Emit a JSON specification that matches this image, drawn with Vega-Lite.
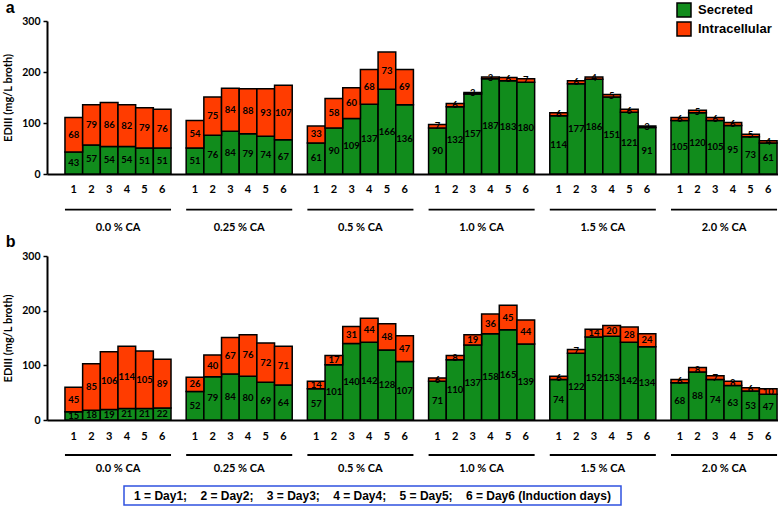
{
  "$schema": "https://vega.github.io/schema/vega-lite/v6.json",
  "padding": {"left": 2, "top": 0, "right": 0, "bottom": 0},
  "datasets": {
    "a": [
      {"CA":"0.0 % CA","day":1,"type":"Secreted","value":43},{"CA":"0.0 % CA","day":2,"type":"Secreted","value":57},{"CA":"0.0 % CA","day":3,"type":"Secreted","value":54},{"CA":"0.0 % CA","day":4,"type":"Secreted","value":54},{"CA":"0.0 % CA","day":5,"type":"Secreted","value":51},{"CA":"0.0 % CA","day":6,"type":"Secreted","value":51},
      {"CA":"0.0 % CA","day":1,"type":"Intracellular","value":68},{"CA":"0.0 % CA","day":2,"type":"Intracellular","value":79},{"CA":"0.0 % CA","day":3,"type":"Intracellular","value":86},{"CA":"0.0 % CA","day":4,"type":"Intracellular","value":82},{"CA":"0.0 % CA","day":5,"type":"Intracellular","value":79},{"CA":"0.0 % CA","day":6,"type":"Intracellular","value":76},
      {"CA":"0.25 % CA","day":1,"type":"Secreted","value":51},{"CA":"0.25 % CA","day":2,"type":"Secreted","value":76},{"CA":"0.25 % CA","day":3,"type":"Secreted","value":84},{"CA":"0.25 % CA","day":4,"type":"Secreted","value":79},{"CA":"0.25 % CA","day":5,"type":"Secreted","value":74},{"CA":"0.25 % CA","day":6,"type":"Secreted","value":67},
      {"CA":"0.25 % CA","day":1,"type":"Intracellular","value":54},{"CA":"0.25 % CA","day":2,"type":"Intracellular","value":75},{"CA":"0.25 % CA","day":3,"type":"Intracellular","value":84},{"CA":"0.25 % CA","day":4,"type":"Intracellular","value":88},{"CA":"0.25 % CA","day":5,"type":"Intracellular","value":93},{"CA":"0.25 % CA","day":6,"type":"Intracellular","value":107},
      {"CA":"0.5 % CA","day":1,"type":"Secreted","value":61},{"CA":"0.5 % CA","day":2,"type":"Secreted","value":90},{"CA":"0.5 % CA","day":3,"type":"Secreted","value":109},{"CA":"0.5 % CA","day":4,"type":"Secreted","value":137},{"CA":"0.5 % CA","day":5,"type":"Secreted","value":166},{"CA":"0.5 % CA","day":6,"type":"Secreted","value":136},
      {"CA":"0.5 % CA","day":1,"type":"Intracellular","value":33},{"CA":"0.5 % CA","day":2,"type":"Intracellular","value":58},{"CA":"0.5 % CA","day":3,"type":"Intracellular","value":60},{"CA":"0.5 % CA","day":4,"type":"Intracellular","value":68},{"CA":"0.5 % CA","day":5,"type":"Intracellular","value":73},{"CA":"0.5 % CA","day":6,"type":"Intracellular","value":69},
      {"CA":"1.0 % CA","day":1,"type":"Secreted","value":90},{"CA":"1.0 % CA","day":2,"type":"Secreted","value":132},{"CA":"1.0 % CA","day":3,"type":"Secreted","value":157},{"CA":"1.0 % CA","day":4,"type":"Secreted","value":187},{"CA":"1.0 % CA","day":5,"type":"Secreted","value":183},{"CA":"1.0 % CA","day":6,"type":"Secreted","value":180},
      {"CA":"1.0 % CA","day":1,"type":"Intracellular","value":7},{"CA":"1.0 % CA","day":2,"type":"Intracellular","value":6},{"CA":"1.0 % CA","day":3,"type":"Intracellular","value":3},{"CA":"1.0 % CA","day":4,"type":"Intracellular","value":3},{"CA":"1.0 % CA","day":5,"type":"Intracellular","value":6},{"CA":"1.0 % CA","day":6,"type":"Intracellular","value":7},
      {"CA":"1.5 % CA","day":1,"type":"Secreted","value":114},{"CA":"1.5 % CA","day":2,"type":"Secreted","value":177},{"CA":"1.5 % CA","day":3,"type":"Secreted","value":186},{"CA":"1.5 % CA","day":4,"type":"Secreted","value":151},{"CA":"1.5 % CA","day":5,"type":"Secreted","value":121},{"CA":"1.5 % CA","day":6,"type":"Secreted","value":91},
      {"CA":"1.5 % CA","day":1,"type":"Intracellular","value":6},{"CA":"1.5 % CA","day":2,"type":"Intracellular","value":6},{"CA":"1.5 % CA","day":3,"type":"Intracellular","value":4},{"CA":"1.5 % CA","day":4,"type":"Intracellular","value":5},{"CA":"1.5 % CA","day":5,"type":"Intracellular","value":6},{"CA":"1.5 % CA","day":6,"type":"Intracellular","value":3},
      {"CA":"2.0 % CA","day":1,"type":"Secreted","value":105},{"CA":"2.0 % CA","day":2,"type":"Secreted","value":120},{"CA":"2.0 % CA","day":3,"type":"Secreted","value":105},{"CA":"2.0 % CA","day":4,"type":"Secreted","value":95},{"CA":"2.0 % CA","day":5,"type":"Secreted","value":73},{"CA":"2.0 % CA","day":6,"type":"Secreted","value":61},
      {"CA":"2.0 % CA","day":1,"type":"Intracellular","value":6},{"CA":"2.0 % CA","day":2,"type":"Intracellular","value":5},{"CA":"2.0 % CA","day":3,"type":"Intracellular","value":6},{"CA":"2.0 % CA","day":4,"type":"Intracellular","value":6},{"CA":"2.0 % CA","day":5,"type":"Intracellular","value":5},{"CA":"2.0 % CA","day":6,"type":"Intracellular","value":4}
    ],
    "b": [
      {"CA":"0.0 % CA","day":1,"type":"Secreted","value":15},{"CA":"0.0 % CA","day":2,"type":"Secreted","value":18},{"CA":"0.0 % CA","day":3,"type":"Secreted","value":19},{"CA":"0.0 % CA","day":4,"type":"Secreted","value":21},{"CA":"0.0 % CA","day":5,"type":"Secreted","value":21},{"CA":"0.0 % CA","day":6,"type":"Secreted","value":22},
      {"CA":"0.0 % CA","day":1,"type":"Intracellular","value":45},{"CA":"0.0 % CA","day":2,"type":"Intracellular","value":85},{"CA":"0.0 % CA","day":3,"type":"Intracellular","value":106},{"CA":"0.0 % CA","day":4,"type":"Intracellular","value":114},{"CA":"0.0 % CA","day":5,"type":"Intracellular","value":105},{"CA":"0.0 % CA","day":6,"type":"Intracellular","value":89},
      {"CA":"0.25 % CA","day":1,"type":"Secreted","value":52},{"CA":"0.25 % CA","day":2,"type":"Secreted","value":79},{"CA":"0.25 % CA","day":3,"type":"Secreted","value":84},{"CA":"0.25 % CA","day":4,"type":"Secreted","value":80},{"CA":"0.25 % CA","day":5,"type":"Secreted","value":69},{"CA":"0.25 % CA","day":6,"type":"Secreted","value":64},
      {"CA":"0.25 % CA","day":1,"type":"Intracellular","value":26},{"CA":"0.25 % CA","day":2,"type":"Intracellular","value":40},{"CA":"0.25 % CA","day":3,"type":"Intracellular","value":67},{"CA":"0.25 % CA","day":4,"type":"Intracellular","value":76},{"CA":"0.25 % CA","day":5,"type":"Intracellular","value":72},{"CA":"0.25 % CA","day":6,"type":"Intracellular","value":71},
      {"CA":"0.5 % CA","day":1,"type":"Secreted","value":57},{"CA":"0.5 % CA","day":2,"type":"Secreted","value":101},{"CA":"0.5 % CA","day":3,"type":"Secreted","value":140},{"CA":"0.5 % CA","day":4,"type":"Secreted","value":142},{"CA":"0.5 % CA","day":5,"type":"Secreted","value":128},{"CA":"0.5 % CA","day":6,"type":"Secreted","value":107},
      {"CA":"0.5 % CA","day":1,"type":"Intracellular","value":14},{"CA":"0.5 % CA","day":2,"type":"Intracellular","value":17},{"CA":"0.5 % CA","day":3,"type":"Intracellular","value":31},{"CA":"0.5 % CA","day":4,"type":"Intracellular","value":44},{"CA":"0.5 % CA","day":5,"type":"Intracellular","value":48},{"CA":"0.5 % CA","day":6,"type":"Intracellular","value":47},
      {"CA":"1.0 % CA","day":1,"type":"Secreted","value":71},{"CA":"1.0 % CA","day":2,"type":"Secreted","value":110},{"CA":"1.0 % CA","day":3,"type":"Secreted","value":137},{"CA":"1.0 % CA","day":4,"type":"Secreted","value":158},{"CA":"1.0 % CA","day":5,"type":"Secreted","value":165},{"CA":"1.0 % CA","day":6,"type":"Secreted","value":139},
      {"CA":"1.0 % CA","day":1,"type":"Intracellular","value":6},{"CA":"1.0 % CA","day":2,"type":"Intracellular","value":8},{"CA":"1.0 % CA","day":3,"type":"Intracellular","value":19},{"CA":"1.0 % CA","day":4,"type":"Intracellular","value":36},{"CA":"1.0 % CA","day":5,"type":"Intracellular","value":45},{"CA":"1.0 % CA","day":6,"type":"Intracellular","value":44},
      {"CA":"1.5 % CA","day":1,"type":"Secreted","value":74},{"CA":"1.5 % CA","day":2,"type":"Secreted","value":122},{"CA":"1.5 % CA","day":3,"type":"Secreted","value":152},{"CA":"1.5 % CA","day":4,"type":"Secreted","value":153},{"CA":"1.5 % CA","day":5,"type":"Secreted","value":142},{"CA":"1.5 % CA","day":6,"type":"Secreted","value":134},
      {"CA":"1.5 % CA","day":1,"type":"Intracellular","value":6},{"CA":"1.5 % CA","day":2,"type":"Intracellular","value":7},{"CA":"1.5 % CA","day":3,"type":"Intracellular","value":14},{"CA":"1.5 % CA","day":4,"type":"Intracellular","value":20},{"CA":"1.5 % CA","day":5,"type":"Intracellular","value":28},{"CA":"1.5 % CA","day":6,"type":"Intracellular","value":24},
      {"CA":"2.0 % CA","day":1,"type":"Secreted","value":68},{"CA":"2.0 % CA","day":2,"type":"Secreted","value":88},{"CA":"2.0 % CA","day":3,"type":"Secreted","value":74},{"CA":"2.0 % CA","day":4,"type":"Secreted","value":63},{"CA":"2.0 % CA","day":5,"type":"Secreted","value":53},{"CA":"2.0 % CA","day":6,"type":"Secreted","value":47},
      {"CA":"2.0 % CA","day":1,"type":"Intracellular","value":6},{"CA":"2.0 % CA","day":2,"type":"Intracellular","value":8},{"CA":"2.0 % CA","day":3,"type":"Intracellular","value":7},{"CA":"2.0 % CA","day":4,"type":"Intracellular","value":8},{"CA":"2.0 % CA","day":5,"type":"Intracellular","value":6},{"CA":"2.0 % CA","day":6,"type":"Intracellular","value":10}
    ],
    "note": [{"t": "1 = Day1;\u00a0\u00a0\u00a0 2 = Day2;\u00a0\u00a0\u00a0 3 = Day3;\u00a0\u00a0\u00a0 4 = Day4;\u00a0\u00a0\u00a0 5 = Day5;\u00a0\u00a0\u00a0 6 = Day6 (Induction days)"}]
  },
  "vconcat": [
    {
      "title": {"text": "a", "anchor": "start", "frame": "bounds", "font": "Liberation Sans", "fontSize": 16, "fontWeight": "bold", "offset": -14, "dx": 3, "color": "black"},
      "width": 731,
      "height": 153,
      "data": {"name": "a"},
      "transform": [
        {"stack": "value", "groupby": ["CA", "day"], "sort": [{"field": "type", "order": "descending"}], "as": ["v0", "v1"]},
        {"calculate": "(datum.v0 + datum.v1) / 2", "as": "mid"}
      ],
      "layer": [
        {
          "mark": {"type": "bar", "stroke": "black", "strokeWidth": 1.5},
          "encoding": {
            "x": {"field": "CA", "type": "nominal", "sort": null, "scale": {"domain": ["0.0 % CA","0.25 % CA","0.5 % CA","1.0 % CA","1.5 % CA","2.0 % CA"], "paddingInner": 0.125, "paddingOuter": 0.078, "align": 0.95}, "axis": {"title": null, "labelAngle": 0, "ticks": false, "tickSize": 0, "labelPadding": 47, "domainColor": "black", "domainWidth": 2, "labelFont": "Lato", "labelFontWeight": "bold", "labelFontSize": 11, "labelColor": "black"}},
            "xOffset": {"field": "day", "type": "ordinal", "scale": {"paddingInner": 0, "paddingOuter": 0}},
            "y": {"field": "v0", "type": "quantitative", "scale": {"domain": [0, 300]}, "axis": {"title": "EDIII (mg/L broth)", "values": [0,50,100,150,200,250,300], "grid": false, "domainColor": "black", "domainWidth": 2, "tickColor": "black", "tickWidth": 1.5, "tickSize": 4, "labelPadding": 3, "labelFont": "Lato", "labelFontWeight": "bold", "labelFontSize": 10.5, "labelColor": "black", "titleFont": "Lato", "titleFontWeight": "bold", "titleFontSize": 11, "titleColor": "black", "titlePadding": 8}},
            "y2": {"field": "v1"},
            "color": {"field": "type", "type": "nominal", "scale": {"domain": ["Secreted", "Intracellular"], "range": ["#118c1c", "#ff3c00"]}, "legend": {"title": null, "orient": "none", "legendX": 629, "legendY": -19, "symbolType": "square", "symbolSize": 196, "symbolStrokeColor": "black", "symbolStrokeWidth": 1.5, "symbolOpacity": 1, "labelFont": "Liberation Sans", "labelFontWeight": "bold", "labelFontSize": 13, "labelColor": "black", "labelOffset": 6, "rowPadding": -1, "padding": 0}}
          }
        },
        {
          "mark": {"type": "text", "font": "Lato", "fontWeight": "bold", "fontSize": 9.5, "baseline": "middle", "color": "black"},
          "encoding": {
            "x": {"field": "CA", "type": "nominal", "sort": null},
            "xOffset": {"field": "day", "type": "ordinal"},
            "y": {"field": "mid", "type": "quantitative"},
            "text": {"field": "value", "type": "quantitative"}
          }
        },
        {
          "transform": [{"filter": "datum.type === 'Secreted'"}],
          "mark": {"type": "text", "font": "Lato", "fontWeight": "bold", "fontSize": 11, "baseline": "middle", "color": "black"},
          "encoding": {
            "x": {"field": "CA", "type": "nominal", "sort": null},
            "xOffset": {"field": "day", "type": "ordinal"},
            "y": {"datum": -31},
            "text": {"field": "day", "type": "ordinal"}
          }
        },
        {
          "transform": [{"filter": "datum.type === 'Secreted' && datum.day === 1"}],
          "mark": {"type": "rule", "color": "black", "strokeWidth": 1.8},
          "encoding": {
            "x": {"field": "CA", "type": "nominal", "sort": null, "bandPosition": 0},
            "x2": {"field": "CA", "bandPosition": 1},
            "y": {"datum": -70}
          }
        }
      ]
    },
    {
      "title": {"text": "b", "anchor": "start", "frame": "bounds", "font": "Liberation Sans", "fontSize": 16, "fontWeight": "bold", "offset": 1, "dx": 3, "color": "black"},
      "width": 731,
      "height": 164,
      "data": {"name": "b"},
      "transform": [
        {"stack": "value", "groupby": ["CA", "day"], "sort": [{"field": "type", "order": "descending"}], "as": ["v0", "v1"]},
        {"calculate": "(datum.v0 + datum.v1) / 2", "as": "mid"}
      ],
      "layer": [
        {
          "mark": {"type": "bar", "stroke": "black", "strokeWidth": 1.5},
          "encoding": {
            "x": {"field": "CA", "type": "nominal", "sort": null, "scale": {"domain": ["0.0 % CA","0.25 % CA","0.5 % CA","1.0 % CA","1.5 % CA","2.0 % CA"], "paddingInner": 0.125, "paddingOuter": 0.078, "align": 0.95}, "axis": {"title": null, "labelAngle": 0, "ticks": false, "tickSize": 0, "labelPadding": 42, "domainColor": "black", "domainWidth": 2, "labelFont": "Lato", "labelFontWeight": "bold", "labelFontSize": 11, "labelColor": "black"}},
            "xOffset": {"field": "day", "type": "ordinal", "scale": {"paddingInner": 0, "paddingOuter": 0}},
            "y": {"field": "v0", "type": "quantitative", "scale": {"domain": [0, 300]}, "axis": {"title": "EDIII (mg/L broth)", "values": [0,50,100,150,200,250,300], "grid": false, "domainColor": "black", "domainWidth": 2, "tickColor": "black", "tickWidth": 1.5, "tickSize": 4, "labelPadding": 3, "labelFont": "Lato", "labelFontWeight": "bold", "labelFontSize": 10.5, "labelColor": "black", "titleFont": "Lato", "titleFontWeight": "bold", "titleFontSize": 11, "titleColor": "black", "titlePadding": 8}},
            "y2": {"field": "v1"},
            "color": {"field": "type", "type": "nominal", "scale": {"domain": ["Secreted", "Intracellular"], "range": ["#118c1c", "#ff3c00"]}, "legend": null}
          }
        },
        {
          "mark": {"type": "text", "font": "Lato", "fontWeight": "bold", "fontSize": 9.5, "baseline": "middle", "color": "black"},
          "encoding": {
            "x": {"field": "CA", "type": "nominal", "sort": null},
            "xOffset": {"field": "day", "type": "ordinal"},
            "y": {"field": "mid", "type": "quantitative"},
            "text": {"field": "value", "type": "quantitative"}
          }
        },
        {
          "transform": [{"filter": "datum.type === 'Secreted'"}],
          "mark": {"type": "text", "font": "Lato", "fontWeight": "bold", "fontSize": 11, "baseline": "middle", "color": "black"},
          "encoding": {
            "x": {"field": "CA", "type": "nominal", "sort": null},
            "xOffset": {"field": "day", "type": "ordinal"},
            "y": {"datum": -32},
            "text": {"field": "day", "type": "ordinal"}
          }
        },
        {
          "transform": [{"filter": "datum.type === 'Secreted' && datum.day === 1"}],
          "mark": {"type": "rule", "color": "black", "strokeWidth": 1.8},
          "encoding": {
            "x": {"field": "CA", "type": "nominal", "sort": null, "bandPosition": 0},
            "x2": {"field": "CA", "bandPosition": 1},
            "y": {"datum": -64}
          }
        }
      ]
    },
    {
      "hconcat": [
        {
          "width": 76,
          "height": 19,
          "data": {"values": []},
          "mark": {"type": "point", "opacity": 0},
          "encoding": {}
        },
        {
          "width": 497,
          "height": 19,
          "view": {"stroke": "#2f52e0", "strokeWidth": 1.5},
          "data": {"name": "note"},
          "mark": {"type": "text", "font": "Liberation Sans", "fontWeight": "bold", "fontSize": 12, "baseline": "middle", "align": "center", "color": "black"},
          "encoding": {"text": {"field": "t", "type": "nominal"}}
        }
      ],
      "spacing": 0,
      "title": {"text": " ", "fontSize": 10, "offset": 0}
    }
  ],
  "spacing": 2,
  "resolve": {"scale": {"color": "independent", "y": "independent", "x": "independent"}, "legend": {"color": "independent"}},
  "config": {"view": {"stroke": null}, "font": "Lato"}
}
